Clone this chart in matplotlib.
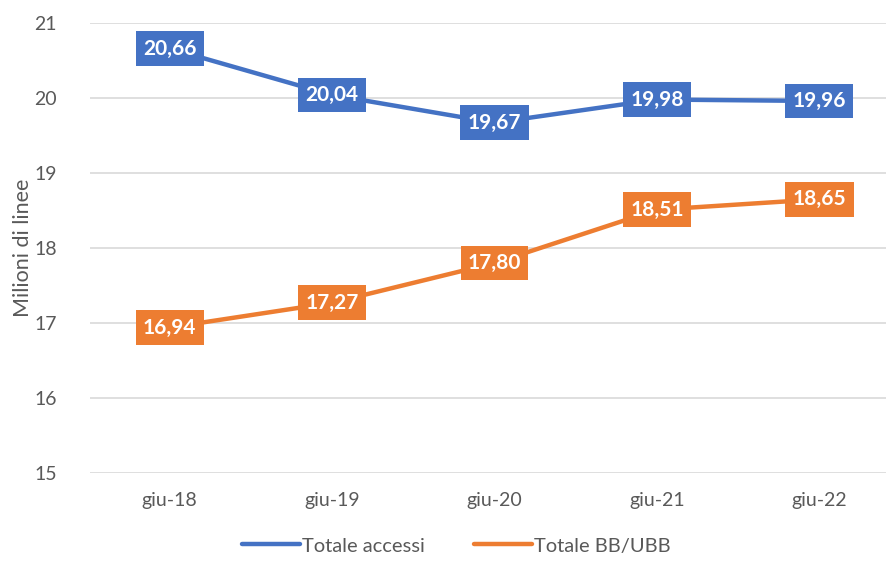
import matplotlib.pyplot as plt

periods = ["giu-18", "giu-19", "giu-20", "giu-21", "giu-22"]
totale_accessi = [20.66, 20.04, 19.67, 19.98, 19.96]
totale_bb_ubb = [16.94, 17.27, 17.80, 18.51, 18.65]

blue = "#4472C4"
orange = "#ED7D31"
grey = "#595959"

plt.rcParams['font.family'] = ['Lato', 'DejaVu Sans']

fig = plt.figure(figsize=(8.86, 5.67), dpi=100)
ax = fig.add_axes([90 / 886, 94 / 567, 796 / 886, 450 / 567])

x = list(range(len(periods)))
ax.plot(x, totale_accessi, color=blue, linewidth=3.2, label="Totale accessi", solid_capstyle="round")
ax.plot(x, totale_bb_ubb, color=orange, linewidth=3.2, label="Totale BB/UBB", solid_capstyle="round")

for series, col in [(totale_accessi, blue), (totale_bb_ubb, orange)]:
    for xi, v in zip(x, series):
        ax.text(xi, v, f"{v:.2f}".replace(".", ","), ha="center", va="center",
                color="white", fontsize=15, fontweight="bold", zorder=5,
                bbox=dict(boxstyle="square,pad=0.35", fc=col, ec="none"))

ax.set_xlim(-0.49, 4.41)
ax.set_ylim(15, 21)
ax.set_yticks(range(15, 22))
ax.set_xticks(x)
ax.set_xticklabels(periods)
ax.grid(axis="y", color="#D9D9D9", linewidth=1.2)
ax.set_axisbelow(True)
for s in ax.spines.values():
    s.set_visible(False)
ax.tick_params(axis="both", length=0, labelsize=14, colors=grey)
ax.tick_params(axis="x", pad=14)
ax.tick_params(axis="y", pad=24)
ax.set_ylabel("Milioni di linee", fontsize=15.5, color=grey, labelpad=1)

fig.legend(loc="lower center", bbox_to_anchor=(0.515, -0.01), ncol=2, frameon=False,
           fontsize=14.5, labelcolor=grey, handlelength=2.9, handletextpad=0.1, columnspacing=2.4)

plt.savefig("out.png", dpi=100)
plt.close()
